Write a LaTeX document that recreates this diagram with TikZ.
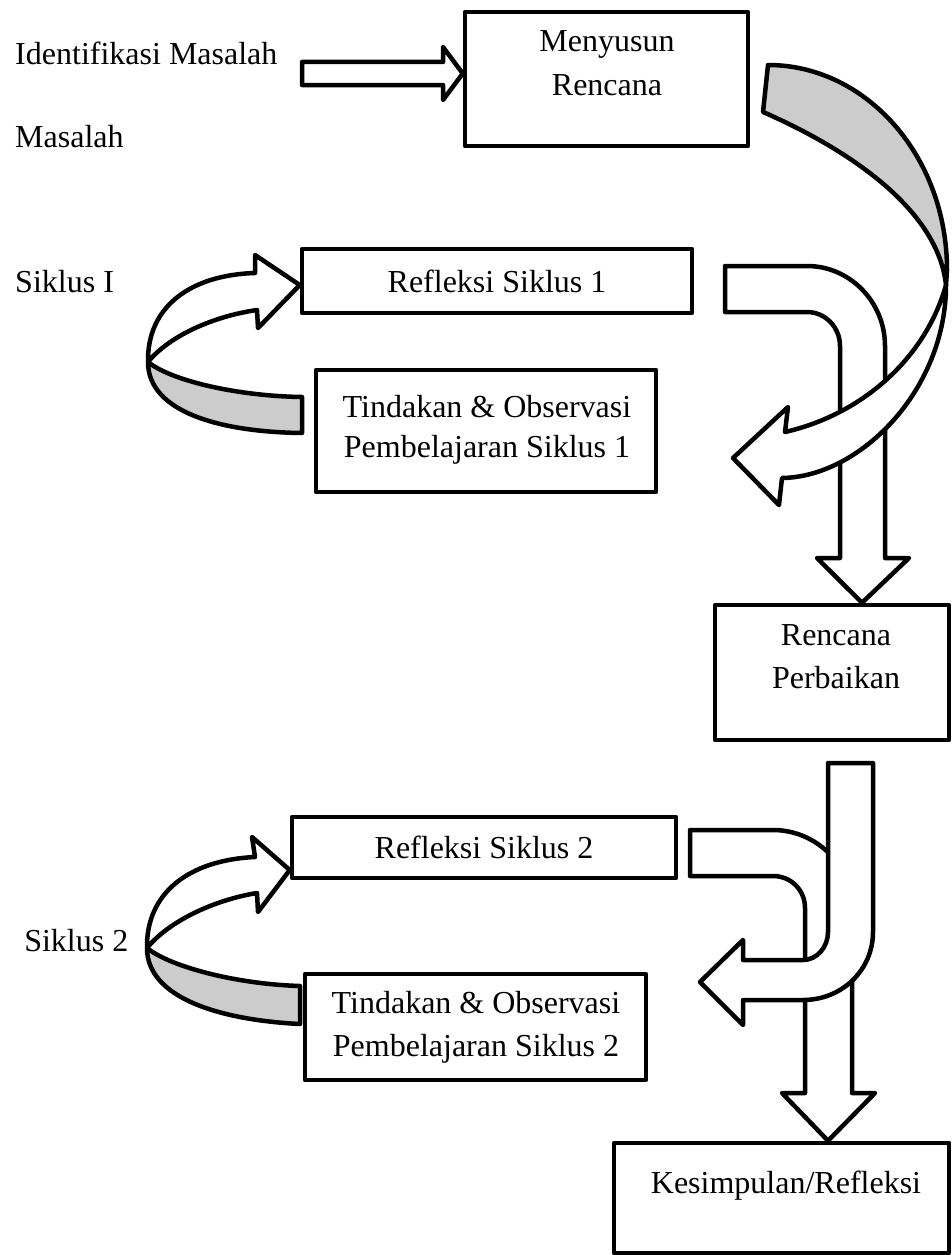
\documentclass[tikz,border=0pt]{standalone}
\usepackage{fontspec}
\setmainfont{Liberation Serif}
\begin{document}
\begin{tikzpicture}[x=1pt,y=-1pt,line width=4.5pt,line join=round,
  box/.style={draw,fill=white,line width=4.5pt,inner sep=0pt},
  blk/.style={draw,fill=white,line width=4.5pt,line join=round},
  shade/.style={draw,fill=black!20,line width=4.5pt,line join=round},
  lbl/.style={font=\fontsize{32}{40}\selectfont,inner sep=0pt,anchor=base},
  lblw/.style={lbl,anchor=base west}]
\useasboundingbox (0,0) rectangle (952,1255);

% boxes
\node[box,minimum width=283pt,minimum height=134pt] (menyusun) at (606.5,79) {};
\node[box,minimum width=390pt,minimum height=64pt] (ref1) at (497,281) {};
\node[box,minimum width=340pt,minimum height=122pt] (tind1) at (486,431) {};
\node[box,minimum width=234pt,minimum height=135pt] (rp) at (832,672.5) {};
\node[box,minimum width=384pt,minimum height=61pt] (ref2) at (484,847.5) {};
\node[box,minimum width=341pt,minimum height=106pt] (tind2) at (475.5,1027) {};
\node[box,minimum width=335pt,minimum height=110pt] (kes) at (781.5,1198) {};

% texts
\node[lblw] (t1) at (13,65) {Identifikasi Masalah};
\node[lblw] (t2) at (13,147) {Masalah};
\node[lblw] (t3) at (13,292) {Siklus I};
\node[lblw] (t4) at (22,951) {Siklus 2};
\node[lbl] (t5) at (607,52) {Menyusun};
\node[lbl] (t6) at (607,95) {Rencana};
\node[lbl] (t7) at (497,292) {Refleksi Siklus 1};
\node[lbl] (t8) at (487,417) {Tindakan \& Observasi};
\node[lbl] (t9) at (487,457) {Pembelajaran Siklus 1};
\node[lbl] (t10) at (836,645) {Rencana};
\node[lbl] (t11) at (836,688) {Perbaikan};
\node[lbl] (t12) at (484,858) {Refleksi Siklus 2};
\node[lbl] (t13) at (476,1013) {Tindakan \& Observasi};
\node[lbl] (t14) at (476,1056) {Pembelajaran Siklus 2};
\node[lbl] (t15) at (786,1193) {Kesimpulan/Refleksi};

% straight arrow into Menyusun Rencana
\draw[blk] (302,62) -- (443,62) -- (443,47) -- (menyusun.west |- 0,73.5) -- (443,100) -- (443,85) -- (302,85) -- cycle;

% bent arrow: Refleksi Siklus 1 -> Rencana Perbaikan
\draw[blk] (725,266) -- (807,266) .. controls (850,266) and (885,302) .. (885,346)
  -- (885,558) -- (909,558) -- (rp.north -| 862,0) -- (817,558) -- (840,558) -- (840,346)
  .. controls (840,327) and (825,312) .. (807,312) -- (725,312) -- cycle;

% big curved arrow: Menyusun Rencana -> down-left
\draw[shade] (768,65) .. controls (866,65) and (947,156) .. (947,270) -- (946,285)
  .. controls (938,210) and (850,150) .. (763,112) -- cycle;
\draw[blk] (946,285) .. controls (946,390) and (860,477) .. (782,478)
  -- (779,505) -- (733,458) -- (788,407) -- (785,432)
  .. controls (860,415) and (925,360) .. (946,285) -- cycle;

% curved arrow Siklus 1
\draw[shade] (302,433) .. controls (220,432) and (148,412) .. (148,362)
  .. controls (170,380) and (235,396) .. (302,397) -- cycle;
\draw[blk] (148,362) .. controls (147,307) and (190,275) .. (255,273)
  -- (255,255) -- (ref1.west |- 0,285) -- (258,328) -- (257,310)
  .. controls (215,316) and (170,335) .. (148,362) -- cycle;

% curved arrow Siklus 2
\draw[shade] (300,1024) .. controls (220,1020) and (147,998) .. (147,948)
  .. controls (169,966) and (234,984) .. (300,986) -- cycle;
\draw[blk] (147,948) .. controls (146,893) and (189,860) .. (255,857)
  -- (252,837) -- (ref2.west |- 0,870) -- (258,912) -- (257,893)
  .. controls (214,900) and (169,921) .. (147,948) -- cycle;

% bent arrow: Refleksi Siklus 2 -> Kesimpulan
\draw[blk] (690,830) -- (773,830) .. controls (816,830) and (852,865) .. (852,908)
  -- (852,1093) -- (875,1093) -- (kes.north -| 828,0) -- (782,1093) -- (805,1093) -- (805,908)
  .. controls (805,890) and (791,876) .. (773,876) -- (690,876) -- cycle;

% bent arrow: Rencana Perbaikan -> Siklus 2
\draw[blk] (828,763) -- (873,763) -- (873,932) .. controls (873,970) and (842,1000) .. (803,1000)
  -- (743,1000) -- (743,1025) -- (700,982) -- (743,940) -- (743,960) -- (803,960)
  .. controls (817,960) and (828,947) .. (828,932) -- cycle;
\end{tikzpicture}
\end{document}
